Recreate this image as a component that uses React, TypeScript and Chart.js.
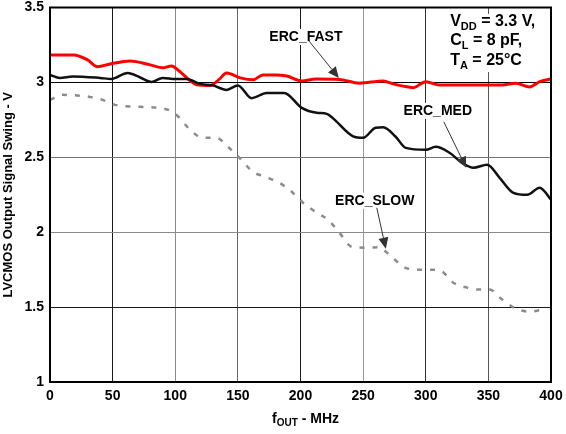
import { useEffect, useRef } from "react";
import { Chart, registerables } from "chart.js";

Chart.register(...registerables);

const FONT = "'Liberation Sans', Arial, Helvetica, sans-serif";

// ERC_FAST (red)
const fastX = [0, 19, 30, 38, 48, 64, 80, 90, 97, 104, 112, 117, 128, 135, 141, 152, 162, 170, 180, 189, 201, 212, 231, 247, 266, 274, 282, 290, 300, 311, 319, 340, 361, 372, 383, 391, 400];
const fastY = [3.183, 3.183, 3.15, 3.105, 3.123, 3.143, 3.117, 3.097, 3.11, 3.07, 3.01, 2.985, 2.98, 3.02, 3.063, 3.03, 3.017, 3.05, 3.05, 3.043, 3.01, 3.023, 3.02, 2.995, 3.01, 2.99, 2.975, 2.965, 3.005, 2.983, 2.983, 2.983, 2.983, 2.995, 2.97, 3.005, 3.023];

// ERC_MED (black)
const medX = [0, 8, 18, 40, 49, 62, 72, 81, 90, 100, 109, 120, 130, 141, 150, 161, 173, 187, 201, 213, 221, 226, 242, 250, 260, 266, 276, 284, 300, 308, 319, 329, 338, 349, 359, 370, 381, 391, 400];
const medY = [3.05, 3.03, 3.04, 3.03, 3.023, 3.063, 3.033, 3.003, 3.03, 3.023, 3.023, 2.99, 2.98, 2.95, 2.98, 2.895, 2.93, 2.93, 2.83, 2.797, 2.79, 2.76, 2.64, 2.63, 2.697, 2.7, 2.637, 2.563, 2.55, 2.57, 2.53, 2.463, 2.43, 2.45, 2.363, 2.263, 2.25, 2.297, 2.217];

// ERC_SLOW (grey dashed)
const slowX = [0, 10, 32, 42, 52, 72, 92, 101, 112, 122, 133, 142, 152, 162, 172, 183, 193, 202, 213, 222, 231, 241, 253, 262, 271, 282, 293, 303, 313, 322, 333, 343, 351, 361, 372, 383, 393];
const slowY = [2.883, 2.917, 2.903, 2.883, 2.85, 2.837, 2.823, 2.783, 2.683, 2.63, 2.63, 2.57, 2.49, 2.403, 2.37, 2.33, 2.27, 2.197, 2.13, 2.083, 1.997, 1.903, 1.897, 1.9, 1.85, 1.77, 1.75, 1.75, 1.737, 1.663, 1.63, 1.617, 1.617, 1.55, 1.49, 1.47, 1.483];

// curve labels (anchored in data units)
const labelText = ["ERC_FAST", "ERC_MED", "ERC_SLOW"];
const labelX = [204.3, 309.6, 259.3];
const labelY = [3.303, 2.81, 2.21];
const arrowFromX = [206.7, 314.4, 260.9];
const arrowFromY = [3.277, 2.737, 2.163];
const arrowToX = [230.6, 332.3, 268.1];
const arrowToY = [3.03, 2.43, 1.89];

// conditions text
const condLines: [string, string, string][] = [
  ["V", "DD", " = 3.3 V,"],
  ["C", "L", " = 8 pF,"],
  ["T", "A", " = 25°C"],
];
const condX = 319.5;
const condY = 3.377;

const xTitleMain = "f";
const xTitleSub = "OUT";
const xTitleRest = " - MHz";
const yTitle = "LVCMOS Output Signal Swing - V";

const xGridColors: Record<number, string> = { 50: "#1a1a1a", 100: "#8a8a8a", 150: "#666", 200: "#1a1a1a", 250: "#999", 300: "#333", 350: "#555" };
const yGridColors: Record<number, string> = { 1.5: "#1a1a1a", 2: "#8a8a8a", 2.5: "#777", 3: "#000" };

const toPts = (xs: number[], ys: number[]) => xs.map((x, i) => ({ x, y: ys[i] }));

const annotPlugin = {
  id: "annot",
  afterDatasetsDraw(chart: any) {
    const { ctx, chartArea } = chart;
    const xs = chart.scales.x;
    const ys = chart.scales.y;
    ctx.save();

    // frame
    ctx.strokeStyle = "#000";
    ctx.lineWidth = 2;
    ctx.strokeRect(chartArea.left, chartArea.top, chartArea.right - chartArea.left, chartArea.bottom - chartArea.top);

    // curve labels & arrows
    for (let i = 0; i < labelText.length; i++) {
      const px = xs.getPixelForValue(labelX[i]);
      const py = ys.getPixelForValue(labelY[i]);
      ctx.font = `bold 14px ${FONT}`;
      const w = ctx.measureText(labelText[i]).width;
      ctx.fillStyle = "#fff";
      ctx.fillRect(px - w / 2 - 2, py - 8, w + 4, 16);
      ctx.fillStyle = "#000";
      ctx.textAlign = "center";
      ctx.textBaseline = "middle";
      ctx.fillText(labelText[i], px, py);

      const x0 = xs.getPixelForValue(arrowFromX[i]);
      const y0 = ys.getPixelForValue(arrowFromY[i]);
      const x1 = xs.getPixelForValue(arrowToX[i]);
      const y1 = ys.getPixelForValue(arrowToY[i]);
      const ang = Math.atan2(y1 - y0, x1 - x0);
      const hl = 11;
      const hw = 5;
      const bx = x1 - hl * Math.cos(ang);
      const by = y1 - hl * Math.sin(ang);
      ctx.strokeStyle = "#333";
      ctx.lineWidth = 1;
      ctx.beginPath();
      ctx.moveTo(x0, y0);
      ctx.lineTo(bx, by);
      ctx.stroke();
      ctx.fillStyle = "#333";
      ctx.beginPath();
      ctx.moveTo(x1, y1);
      ctx.lineTo(bx + hw * Math.sin(ang), by - hw * Math.cos(ang));
      ctx.lineTo(bx - hw * Math.sin(ang), by + hw * Math.cos(ang));
      ctx.closePath();
      ctx.fill();
    }

    // conditions box
    const cx = xs.getPixelForValue(condX);
    const cy = ys.getPixelForValue(condY);
    const lineGap = 19.5;
    ctx.fillStyle = "#fff";
    ctx.fillRect(cx - 3, cy - 12, 100, lineGap * 2 + 19);
    ctx.textAlign = "left";
    ctx.textBaseline = "alphabetic";
    ctx.fillStyle = "#000";
    condLines.forEach((parts, i) => {
      let x = cx;
      const y = cy + i * lineGap;
      ctx.font = `bold 16px ${FONT}`;
      ctx.fillText(parts[0], x, y);
      x += ctx.measureText(parts[0]).width;
      ctx.font = `bold 11px ${FONT}`;
      ctx.fillText(parts[1], x, y + 4);
      x += ctx.measureText(parts[1]).width;
      ctx.font = `bold 16px ${FONT}`;
      ctx.fillText(parts[2], x, y);
    });

    // x axis title
    ctx.font = `bold 14px ${FONT}`;
    const w1 = ctx.measureText(xTitleMain).width;
    const w3 = ctx.measureText(xTitleRest).width;
    ctx.font = `bold 10px ${FONT}`;
    const w2 = ctx.measureText(xTitleSub).width;
    const total = w1 + w2 + w3;
    const center = (chartArea.left + chartArea.right) / 2 + 5;
    let tx = center - total / 2;
    const ty = chartArea.bottom + 41;
    ctx.font = `bold 14px ${FONT}`;
    ctx.fillText(xTitleMain, tx, ty);
    tx += w1;
    ctx.font = `bold 10px ${FONT}`;
    ctx.fillText(xTitleSub, tx, ty + 3);
    tx += w2;
    ctx.font = `bold 14px ${FONT}`;
    ctx.fillText(xTitleRest, tx, ty);

    ctx.restore();
  },
};

export default function App() {
  const ref = useRef<HTMLCanvasElement>(null);
  useEffect(() => {
    document.body.style.margin = "0";
    const chart = new Chart(ref.current!, {
      type: "line",
      data: {
        datasets: [
          {
            label: "ERC_SLOW",
            data: toPts(slowX, slowY),
            borderColor: "#8c8c8c",
            borderWidth: 2.5,
            borderDash: [5, 8],
            pointRadius: 0,
            cubicInterpolationMode: "monotone",
          },
          {
            label: "ERC_MED",
            data: toPts(medX, medY),
            borderColor: "#111",
            borderWidth: 2.5,
            pointRadius: 0,
            cubicInterpolationMode: "monotone",
          },
          {
            label: "ERC_FAST",
            data: toPts(fastX, fastY),
            borderColor: "#ff0000",
            borderWidth: 3,
            pointRadius: 0,
            cubicInterpolationMode: "monotone",
          },
        ],
      },
      options: {
        animation: false,
        responsive: false,
        devicePixelRatio: 1,
        layout: { padding: { left: 0, right: 15, top: 7.5, bottom: 0 } },
        plugins: { legend: { display: false }, tooltip: { enabled: false } },
        scales: {
          x: {
            type: "linear",
            min: 0,
            max: 400,
            ticks: { stepSize: 50, color: "#000", font: { family: FONT, size: 14, weight: "bold" }, padding: 6, maxRotation: 0 },
            grid: {
              drawTicks: false,
              lineWidth: 1,
              color: (c: any) => xGridColors[c.tick?.value] ?? "rgba(0,0,0,0)",
            },
            border: { display: false },
            afterFit: (s: any) => {
              s.height = 52;
              s.paddingLeft = 0;
              s.paddingRight = 0;
              s.paddingTop = 0;
              s.paddingBottom = 0;
            },
          },
          y: {
            type: "linear",
            min: 1,
            max: 3.5,
            ticks: {
              stepSize: 0.5,
              color: "#000",
              font: { family: FONT, size: 14, weight: "bold" },
              padding: 6,
              callback: (v: any) => String(v),
            },
            grid: {
              drawTicks: false,
              lineWidth: 1,
              color: (c: any) => yGridColors[c.tick?.value] ?? "rgba(0,0,0,0)",
            },
            border: { display: false },
            title: {
              display: true,
              text: yTitle,
              color: "#000",
              font: { family: FONT, size: 13, weight: "bold" },
              padding: { top: 1, bottom: 0 },
            },
            afterFit: (s: any) => {
              s.width = 50;
              s.paddingLeft = 0;
              s.paddingRight = 0;
              s.paddingTop = 0;
              s.paddingBottom = 0;
            },
          },
        },
      },
      plugins: [annotPlugin],
    } as any);
    return () => chart.destroy();
  }, []);
  return (
    <div style={{ position: "absolute", left: 0, top: 0, width: 566, height: 434 }}>
      <canvas ref={ref} width={566} height={434} style={{ display: "block", width: 566, height: 434 }} />
    </div>
  );
}
